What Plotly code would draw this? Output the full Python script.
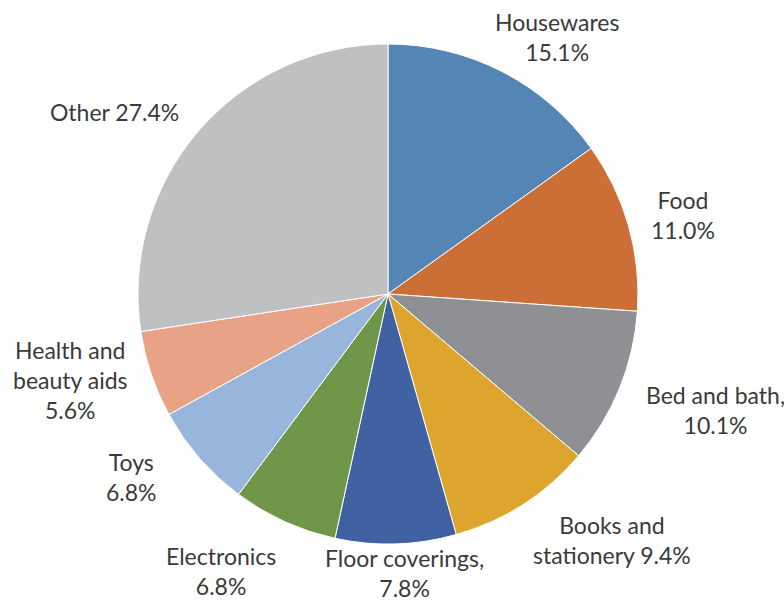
import math
import plotly.graph_objects as go

categories = ["Housewares", "Food", "Bed and bath", "Books and stationery",
              "Floor coverings", "Electronics", "Toys", "Health and beauty aids", "Other"]
shares = [15.1, 11.0, 10.1, 9.4, 7.8, 6.8, 6.8, 5.6, 27.4]
label_lines = [
    ["Housewares", "15.1%"],
    ["Food", "11.0%"],
    ["Bed and bath,", "10.1%"],
    ["Books and", "stationery 9.4%"],
    ["Floor coverings,", "7.8%"],
    ["Electronics", "6.8%"],
    ["Toys", "6.8%"],
    ["Health and", "beauty aids", "5.6%"],
    ["Other 27.4%"],
]
colors = ["#5585B5", "#CC6F36", "#8F9094", "#DDA52D", "#4062A3",
          "#6F9649", "#98B6DC", "#E8A386", "#BFC0C2"]

# layout: per-label nudges (pixels) applied after radial placement
label_nudge = [(32, 10), (7, 3), (7, -14), (61, -8), (7, -17),
               (-43, 5), (-31, -14), (4, -23), (-54, 6)]

W, H = 784, 603
cx, cy, R = 388, 294, 250
FS = 23
LINE_H = 30
CHAR_W = 0.55 * FS
GAP = 16

fig = go.Figure(go.Pie(
    labels=categories, values=shares, sort=False, direction="clockwise",
    rotation=0, textinfo="none", hoverinfo="label+percent",
    marker=dict(colors=colors, line=dict(color="white", width=1)),
    domain=dict(x=[(cx - R) / W, (cx + R) / W], y=[1 - (cy + R) / H, 1 - (cy - R) / H]),
    showlegend=False,
))

total = sum(shares)
cum = 0.0
annotations = []
for v, lines, (nx, ny) in zip(shares, label_lines, label_nudge):
    mid = (cum + v / 2) / total * 2 * math.pi
    cum += v
    s, c = math.sin(mid), math.cos(mid)
    hw = max(len(t) for t in lines) * CHAR_W / 2
    hh = len(lines) * LINE_H / 2
    ext = min(hw / abs(s) if abs(s) > 1e-6 else 1e9, hh / abs(c) if abs(c) > 1e-6 else 1e9)
    d = R + GAP + ext
    px = cx + d * s + nx
    py = cy - d * c + ny
    annotations.append(dict(
        x=px / W, y=1 - py / H, xref="paper", yref="paper",
        text="<br>".join(lines), showarrow=False, align="center",
        xanchor="center", yanchor="middle",
        font=dict(family="Lato", size=FS, color="#3A3A3A"),
    ))

fig.update_layout(
    width=W, height=H, margin=dict(l=0, r=0, t=0, b=0),
    paper_bgcolor="white", plot_bgcolor="white",
    annotations=annotations,
)
fig.write_html("out.html", config={"displayModeBar": False},
               post_script="document.body.style.margin='0';")
